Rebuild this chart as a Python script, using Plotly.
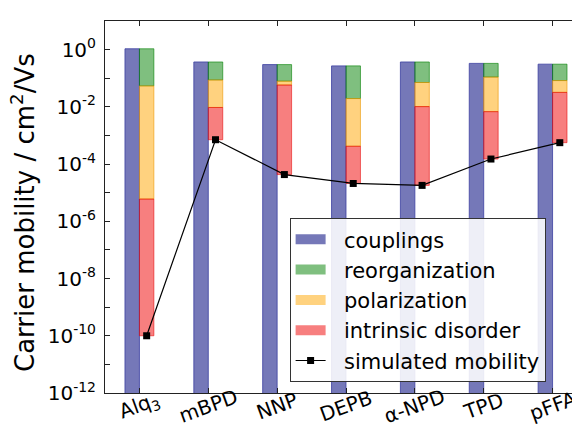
import plotly.graph_objects as go

# ---- data ----
materials = ["Alq<sub>3</sub>", "mBPD", "NNP", "DEPB", "α-NPD", "TPD", "pFFA"]
mu_couplings = [1.07, 0.37, 0.30, 0.27, 0.37, 0.33, 0.31]
mu_reorganization = [0.054, 0.087, 0.079, 0.0195, 0.071, 0.11, 0.083]
mu_polarization = [6.0e-6, 0.0095, 0.058, 4.2e-4, 0.0102, 0.0068, 0.032]
mu_simulated = [1.0e-10, 7.1e-4, 4.3e-5, 2.1e-5, 1.8e-5, 1.5e-4, 5.6e-4]
label_exponents = [0, -2, -4, -6, -8, -10, -12]
minor_exponents = [-1, -3, -5, -7, -9, -11]
y_title = "Carrier mobility / cm<sup>2</sup>/Vs"
legend_names = ["couplings", "reorganization", "polarization", "intrinsic disorder",
                "simulated mobility"]

FONT = "DejaVu Sans"
idx = list(range(len(materials)))
bw = 0.21
floor = 1e-14

c_blue = "rgba(52,56,150,0.68)"
c_green = "rgba(0,128,0,0.5)"
c_yellow = "rgba(255,165,0,0.5)"
c_red = "rgba(240,0,0,0.5)"
e_blue = "rgba(60,64,160,0.8)"
e_green = "rgba(0,128,0,0.6)"
e_yellow = "rgba(235,150,0,0.6)"
e_red = "rgba(230,0,0,0.55)"

fig = go.Figure()

# legend proxies
for name, col in zip(legend_names[:4], [c_blue, c_green, c_yellow, c_red]):
    fig.add_trace(go.Scatter(x=[None], y=[None], mode="lines", name="  " + name,
                             line=dict(color=col, width=15), hoverinfo="skip"))

fig.add_trace(go.Scatter(
    x=[i + bw / 2 for i in idx], y=mu_simulated, mode="lines+markers",
    name="  " + legend_names[4],
    line=dict(color="black", width=1.2),
    marker=dict(symbol="square", size=7, color="black"),
))

fig.add_trace(go.Bar(
    x=idx, y=[c - floor for c in mu_couplings], base=[floor] * len(idx),
    width=bw, offset=-bw, marker=dict(color=c_blue, line=dict(color=e_blue, width=1)),
    showlegend=False, name="couplings"))
fig.add_trace(go.Bar(
    x=idx, y=[a - b for a, b in zip(mu_couplings, mu_reorganization)], base=mu_reorganization,
    width=bw, offset=0, marker=dict(color=c_green, line=dict(color=e_green, width=1)),
    showlegend=False, name="reorganization"))
fig.add_trace(go.Bar(
    x=idx, y=[a - b for a, b in zip(mu_reorganization, mu_polarization)], base=mu_polarization,
    width=bw, offset=0, marker=dict(color=c_yellow, line=dict(color=e_yellow, width=1)),
    showlegend=False, name="polarization"))
fig.add_trace(go.Bar(
    x=idx, y=[a - b for a, b in zip(mu_polarization, mu_simulated)], base=mu_simulated,
    width=bw, offset=0, marker=dict(color=c_red, line=dict(color=e_red, width=1)),
    showlegend=False, name="intrinsic disorder"))

# x tick labels as rotated, centred text
for i, name in zip(idx, materials):
    fig.add_annotation(x=i, xref="x", y=0, yref="paper", yanchor="middle", xanchor="center",
                       yshift=-13, text=name, textangle=-20, showarrow=False,
                       font=dict(family=FONT, size=20, color="black"))

# y-axis title
fig.add_annotation(x=-0.17, xref="paper", y=0.484, yref="paper", xanchor="center",
                   yanchor="middle", text=y_title, textangle=-90, showarrow=False,
                   font=dict(family=FONT, size=26, color="black"))

fig.update_layout(
    width=580, height=425,
    margin=dict(l=97, r=1, t=13, b=40),
    paper_bgcolor="white", plot_bgcolor="white",
    barmode="overlay",
    font=dict(family=FONT, size=20, color="black"),
    showlegend=True,
    legend=dict(x=0.383, y=0.47, xanchor="left", yanchor="top",
                bgcolor="rgba(255,255,255,0.88)", bordercolor="#333", borderwidth=1,
                font=dict(family=FONT, size=21, color="black"),
                itemwidth=30, tracegroupgap=0, entrywidth=230, entrywidthmode="pixels"),
    xaxis=dict(range=[-0.5, 6.5], tickvals=idx,
               showticklabels=False, ticks="inside", ticklen=5, tickcolor="#222",
               showline=True, linecolor="#222", linewidth=1, mirror="ticks",
               showgrid=False, zeroline=False),
    yaxis=dict(type="log", range=[-12, 1],
               tickvals=[10.0 ** k for k in label_exponents],
               ticktext=["10<sup>%d</sup>" % k for k in label_exponents],
               minor=dict(tickvals=[10.0 ** k for k in minor_exponents],
                          ticks="inside", ticklen=5, tickcolor="#222", showgrid=False),
               ticks="inside", ticklen=5, tickcolor="#222", ticklabelstandoff=4,
               showline=True, linecolor="#222", linewidth=1, mirror="ticks",
               showgrid=False, zeroline=False),
)

fig.write_html("out.html")
